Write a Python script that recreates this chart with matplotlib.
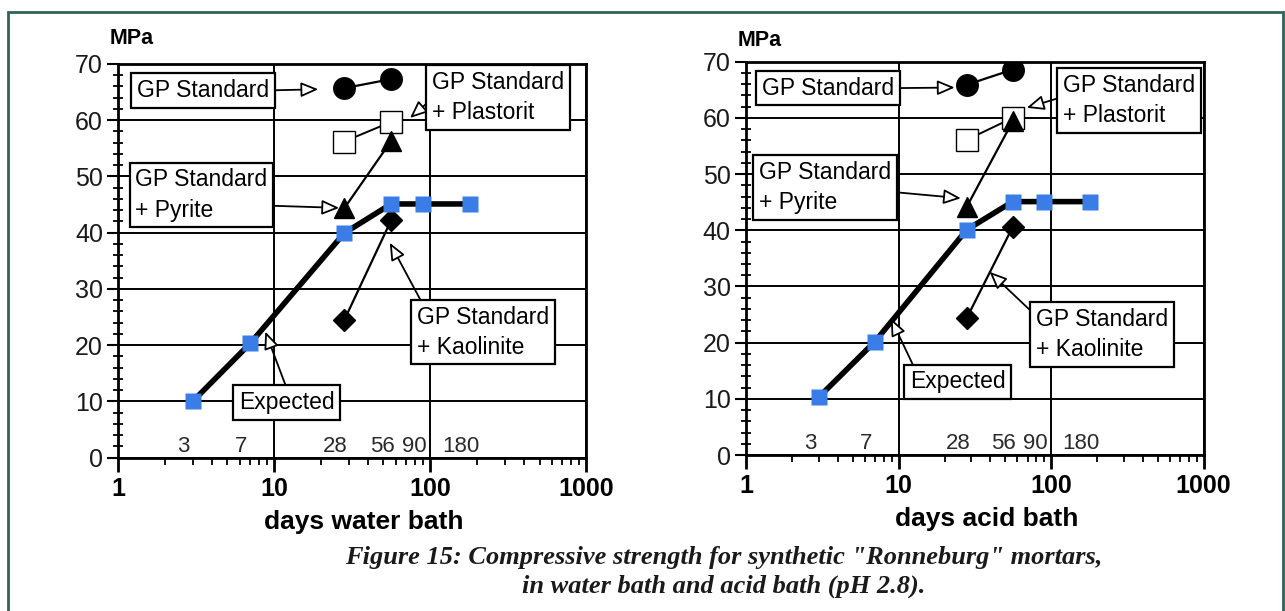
import matplotlib
matplotlib.use('Agg')
import matplotlib.pyplot as plt
from matplotlib.ticker import MultipleLocator, LogLocator, NullFormatter, FixedLocator
from matplotlib.patches import Rectangle

plt.rcParams['font.family'] = ['Liberation Sans', 'DejaVu Sans']

# curing ages (days)
days_expected = [3, 7, 28, 56, 90, 180]
days_pair = [28, 56]
day_labels = ['3', '7', '28', '56', '90', '180']

# compressive strength in MPa, water bath
water_expected = [10.0, 20.3, 39.9, 45.1, 45.1, 45.1]
water_standard = [65.7, 67.3]
water_plastorit = [56.2, 59.7]
water_pyrite = [44.3, 56.3]
water_kaolinite = [24.4, 42.2]

# compressive strength in MPa, acid bath (pH 2.8)
acid_expected = [10.3, 20.2, 40.1, 45.1, 45.1, 45.1]
acid_standard = [65.9, 68.6]
acid_plastorit = [56.1, 60.0]
acid_pyrite = [44.2, 59.4]
acid_kaolinite = [24.4, 40.6]

# callout boxes: text, box centre, arrow tip, arrow start on box (relative)
water_notes = [
    ('GP Standard', (3.5, 65.3), (19.1, 65.5), (1.0, 0.5)),
    ('GP Standard\n+ Plastorit', (272, 64.0), (74, 60.4), (0.04, 0.57)),
    ('GP Standard\n+ Pyrite', (3.41, 46.7), (26, 44.4), (1.0, 0.3)),
    ('GP Standard\n+ Kaolinite', (217, 22.3), (54.9, 38.2), (0.05, 1.0)),
    ('Expected', (12.0, 9.8), (8.74, 22.4), (0.51, 1.0)),
]
acid_notes = [
    ('GP Standard', (3.45, 65.3), (23.3, 65.4), (1.0, 0.5)),
    ('GP Standard\n+ Plastorit', (324, 63.1), (69.2, 61.8), (0.0, 0.57)),
    ('GP Standard\n+ Pyrite', (3.30, 47.6), (25.6, 45.7), (1.0, 0.42)),
    ('GP Standard\n+ Kaolinite', (215, 21.4), (39.5, 32.6), (0.0, 0.86)),
    ('Expected', (24.4, 13.0), (8.9, 24.3), (0.06, 1.0)),
]

BLUE = '#3a7de6'


def draw_panel(ax, expected, standard, plastorit, pyrite, kaolinite, notes, xlabel):
    ax.set_xscale('log')
    ax.set_xlim(1, 1000)
    ax.set_ylim(0, 70)

    ax.yaxis.set_major_locator(MultipleLocator(10))
    ax.yaxis.set_minor_locator(MultipleLocator(2))
    ax.xaxis.set_major_locator(FixedLocator([1, 10, 100, 1000]))
    ax.xaxis.set_minor_locator(LogLocator(base=10, subs=range(2, 10)))
    ax.xaxis.set_minor_formatter(NullFormatter())
    ax.set_xticklabels(['1', '10', '100', '1000'], fontweight='bold')

    ax.grid(True, which='major', color='black', lw=1.4, zorder=0)
    for s in ax.spines.values():
        s.set_linewidth(2)
    ax.tick_params(axis='y', which='major', direction='out', length=8, width=1.5,
                   labelsize=18, pad=3, labelcolor='#1a1a1a')
    ax.tick_params(axis='y', which='minor', direction='inout', length=7, width=1.3)
    ax.tick_params(axis='x', which='major', direction='out', length=10, width=2,
                   labelsize=18, pad=4)
    ax.tick_params(axis='x', which='minor', direction='out', length=5, width=1.3)

    ax.plot(days_pair, standard, '-o', color='black', ms=15.5, lw=1.6, zorder=3)
    ax.plot(days_pair, plastorit, '-s', color='black', mfc='white', mec='black',
            mew=1.0, ms=15.5, lw=1.4, zorder=3)
    ax.plot(days_pair, pyrite, '-^', color='black', ms=15, lw=1.6, zorder=4)
    ax.plot(days_pair, kaolinite, '-D', color='black', ms=11, lw=1.6, zorder=3)
    ax.plot(days_expected, expected, '-', color='black', lw=4, zorder=4,
            solid_capstyle='round')
    ax.plot(days_expected, expected, 's', color=BLUE, ms=12, mec='none', zorder=5)

    for d, lbl in zip(days_expected, day_labels):
        ax.annotate(lbl, (d, 0), xytext=(-6.5, 0.5), textcoords='offset points',
                    ha='center', va='bottom', fontsize=16, color='#2a2a2a')

    for text, box_xy, tip_xy, rel in notes:
        ax.annotate(text, xy=tip_xy, xytext=box_xy, ha='center', va='center',
                    multialignment='left', fontsize=16.5, linespacing=1.4,
                    annotation_clip=False, zorder=6,
                    bbox=dict(boxstyle='square,pad=0.25', fc='white', ec='black', lw=1.6),
                    arrowprops=dict(arrowstyle='-|>,head_length=0.7,head_width=0.3',
                                    mutation_scale=15, fc='white', ec='black', lw=1.3,
                                    shrinkA=0, shrinkB=0, relpos=rel, patchA=None))

    ax.set_xlabel(xlabel, fontsize=19, fontweight='bold')
    ax.xaxis.set_label_coords(0.525, -0.133)
    ax.xaxis.label.set_va('top')


fig = plt.figure(figsize=(12.85, 6.11), dpi=100)

ax_w = fig.add_axes([0.0921, 0.2512, 0.3643, 0.6441])
ax_a = fig.add_axes([0.5806, 0.2553, 0.3561, 0.6437])

draw_panel(ax_w, water_expected, water_standard, water_plastorit, water_pyrite,
           water_kaolinite, water_notes, 'days water bath')
draw_panel(ax_a, acid_expected, acid_standard, acid_plastorit, acid_pyrite,
           acid_kaolinite, acid_notes, 'days acid bath')

fig.text(110 / 1285, 1 - 38.5 / 611, 'MPa', fontsize=15.5, fontweight='bold', va='center')
fig.text(737.5 / 1285, 1 - 40.5 / 611, 'MPa', fontsize=15.5, fontweight='bold', va='center')

fig.text(724 / 1285, 1 - 572 / 611,
         'Figure 15: Compressive strength for synthetic "Ronneburg" mortars,\n'
         'in water bath and acid bath (pH 2.8).',
         ha='center', va='center', fontsize=19, fontweight='bold', style='italic',
         family='Liberation Serif', linespacing=1.32, color='#1a1a1a')

# page frame around the figure block
fig.add_artist(Rectangle((8 / 1285, -0.1), 1275 / 1285, 1.1 - 12 / 611,
                         transform=fig.transFigure, fill=False,
                         ec='#2f6457', lw=2))

fig.savefig('out.png', dpi=100)
